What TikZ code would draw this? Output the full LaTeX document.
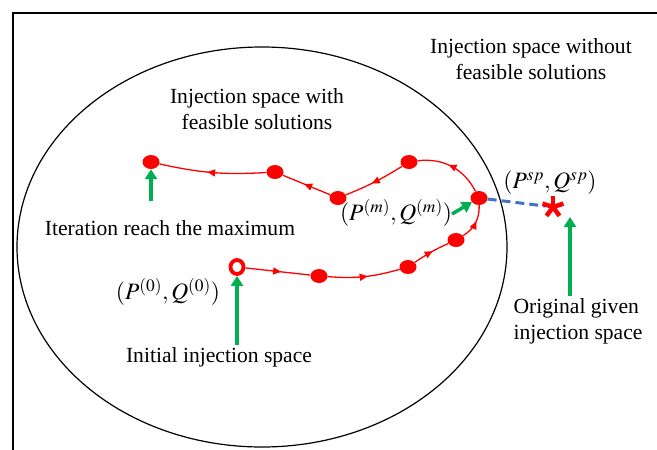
\documentclass[tikz,border=0pt]{standalone}
\usepackage{mathptmx}
\usepackage{fontspec}
\setmainfont{Liberation Serif}
\usetikzlibrary{positioning,arrows.meta,shapes.geometric,decorations.markings}
\definecolor{trailRed}{HTML}{FF0000}
\definecolor{pointGreen}{HTML}{00B050}
\definecolor{dashBlue}{HTML}{4472C4}

\begin{document}
\begin{tikzpicture}[x=1pt,y=1pt,
          dot/.style={ellipse, fill=trailRed, inner sep=0pt,
                      minimum width=17pt, minimum height=14pt},
          start/.style={ellipse, draw=trailRed, line width=3.8pt, inner sep=0pt,
                        minimum width=13pt, minimum height=14pt},
          trail/.style={trailRed, line width=1.3pt, postaction={decorate},
                        decoration={markings, mark=at position 0.55 with
                          {\arrow{Triangle[length=8pt,width=7pt]}}}},
          pointer/.style={pointGreen, line width=4pt,
                          -{Triangle[length=10pt,width=12pt]}},
          lbl/.style={font=\fontsize{21.6}{26}\selectfont, inner sep=0pt},
          mlbl/.style={font=\fontsize{23.5}{26}\selectfont, inner sep=0pt},
          every node/.style={align=center}]
        \useasboundingbox (0,0) rectangle (657,-450);
        % frame and feasible region
        \draw[line width=1.2pt] (13,-450) -- (13,-13) -- (657,-13);
        \draw[line width=1.2pt] (262,-247) ellipse [x radius=245, y radius=200];
        % iteration points
        \node[start] (s0) at (237,-267) {};
        \node[dot] (d1) at (319,-276) {};
        \node[dot] (d2) at (408,-267) {};
        \node[dot] (d3) at (456,-240) {};
        \node[dot] (d4) at (479,-198) {};
        \node[dot] (d5) at (409,-162) {};
        \node[dot] (d6) at (338,-198) {};
        \node[dot] (d7) at (275,-172) {};
        \node[dot] (d8) at (151,-162) {};
        \draw[trail] (s0) -- (d1);
        \draw[trail] (d1) to[bend right=10] (d2);
        \draw[trail] (d2) to[bend left=5] (d3);
        \draw[trail] (d3) to[bend right=30] (d4);
        \draw[trail] (d4) to[bend right=35] (d5);
        \draw[trail] (d5) to[bend left=5] (d6);
        \draw[trail] (d6) -- (d7);
        \draw[trail] (d7) to[bend left=8] (d8);
        % original point outside
        \coordinate (sp) at (553,-207);
        \draw[dashBlue, line width=3pt, dash pattern=on 9pt off 5pt,
              shorten >=8pt] (d4) -- (sp);
        \foreach \ang in {90,18,162,-54,234}
          \draw[trailRed, line width=4.5pt] (sp) -- ++(\ang:11);
        % labels
        \node[lbl] (nofeas) at (531,-59) {Injection space without\\feasible solutions};
        \node[lbl] (feas) at (257,-109) {Injection space with\\feasible solutions};
        \node[lbl] (maxit) at (170,-228) {Iteration reach the maximum};
        \node[mlbl] (pm) at (396,-213) {$(P^{(m)},Q^{(m)})$};
        \node[mlbl] (psp) at (550,-183) {$(P^{sp},Q^{sp})$};
        \node[mlbl] (p0) at (168,-292) {$(P^{(0)},Q^{(0)})$};
        \node[lbl] (init) at (219,-357) {Initial injection space};
        \node[lbl, align=left] (orig) at (578,-321) {Original given\\injection space};
        % green pointers
        \coordinate (t1) at (151,-201);
        \coordinate (t2) at (237,-345);
        \coordinate (t3) at (570,-296);
        \coordinate (t4) at (452,-214);
        \coordinate (h3) at (570,-217);
        \draw[pointer] (t1) -- (d8);
        \draw[pointer] (t2) -- (s0);
        \draw[pointer] (t3) -- (h3);
        \draw[pointer, line width=3.5pt] (t4) -- (d4);
      \end{tikzpicture}
\end{document}
